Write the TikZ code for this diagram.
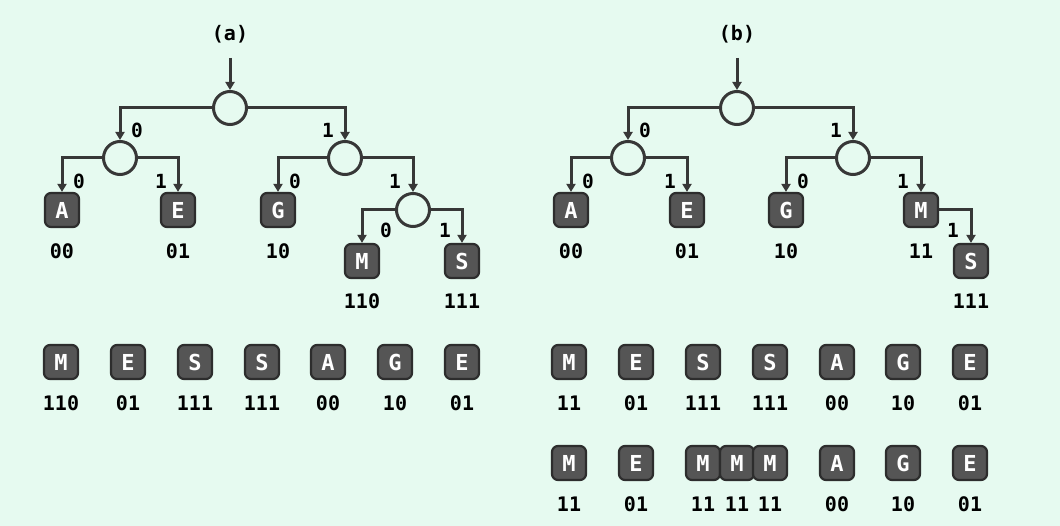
\documentclass[tikz,border=0pt]{standalone}
\usepackage{fontspec}
\newfontfamily\monof{DejaVu Sans Mono}
\usetikzlibrary{arrows.meta}
\definecolor{bgc}{RGB}{230,250,240}
\definecolor{linec}{RGB}{55,55,55}
\definecolor{boxf}{RGB}{85,85,85}
\definecolor{boxd}{RGB}{45,45,45}
\tikzset{
  conn/.style={draw=linec, line width=3pt, -{Triangle[length=8pt,width=9pt]}},
  split/.style={circle, draw=linec, line width=3pt, minimum size=33pt, inner sep=0pt},
  sym/.style={rectangle, rounded corners=6pt, fill=boxf, draw=boxd, line width=2.2pt, minimum width=34pt, minimum height=34pt, inner sep=0pt, text=white, font=\monof\bfseries\fontsize{22}{22}\selectfont},
  code/.style={inner sep=0pt, text=black, font=\monof\bfseries\fontsize{20}{20}\selectfont},
  bit/.style={inner sep=0pt, text=black, font=\monof\bfseries\fontsize{19.5}{19.5}\selectfont},
  title/.style={inner sep=0pt, text=black, font=\monof\bfseries\fontsize{20}{20}\selectfont}
}
\begin{document}
\begin{tikzpicture}[x=1pt,y=-1pt]
\fill[bgc] (0,0) rectangle (1060,526);
\useasboundingbox (0,0) rectangle (1060,526);

% ---------- (a) ----------
\node[title] (ta) at (230,34) {(a)};
\coordinate (sa) at (230,58);
\node[split] (ar) at (230,108) {};
\node[split] (al) at (120,158) {};
\node[split] (aR) at (345,158) {};
\node[split] (aRR) at (413,210) {};
\node[sym] (aA) at (62,210) {A};
\node[sym] (aE) at (178,210) {E};
\node[sym] (aG) at (278,210) {G};
\node[sym] (aM) at (362,261) {M};
\node[sym] (aS) at (462,261) {S};
\draw[conn] (sa) -- (ar.north);
\draw[conn] (ar.west) -| (al.north);
\draw[conn] (ar.east) -| (aR.north);
\draw[conn] (al.west) -| (aA.north);
\draw[conn] (al.east) -| (aE.north);
\draw[conn] (aR.west) -| (aG.north);
\draw[conn] (aR.east) -| (aRR.north);
\draw[conn] (aRR.west) -| (aM.north);
\draw[conn] (aRR.east) -| (aS.north);
\node[bit] (ab1) at (137,130) {0};
\node[bit] (ab2) at (328,130) {1};
\node[bit] (ab3) at (79,181) {0};
\node[bit] (ab4) at (161,181) {1};
\node[bit] (ab5) at (295,181) {0};
\node[bit] (ab6) at (395,181) {1};
\node[bit] (ab7) at (386,230) {0};
\node[bit] (ab8) at (445,230) {1};
\node[code] (acA) at (62,251) {00};
\node[code] (acE) at (178,251) {01};
\node[code] (acG) at (278,251) {10};
\node[code] (acM) at (362,301) {110};
\node[code] (acS) at (462,301) {111};

% message (a)
\foreach \l/\c/\x [count=\i] in {M/110/61,E/01/128,S/111/195,S/111/262,A/00/328,G/10/395,E/01/462}{
  \node[sym] (am\i) at (\x,362) {\l};
  \node[code] (amc\i) at (\x,403) {\c};
}

% ---------- (b) ----------
\node[title] (tb) at (737,34) {(b)};
\coordinate (sb) at (737,58);
\node[split] (br) at (737,108) {};
\node[split] (bl) at (628,158) {};
\node[split] (bR) at (853,158) {};
\node[sym] (bA) at (571,210) {A};
\node[sym] (bE) at (687,210) {E};
\node[sym] (bG) at (786,210) {G};
\node[sym] (bM) at (921,210) {M};
\node[sym] (bS) at (971,261) {S};
\draw[conn] (sb) -- (br.north);
\draw[conn] (br.west) -| (bl.north);
\draw[conn] (br.east) -| (bR.north);
\draw[conn] (bl.west) -| (bA.north);
\draw[conn] (bl.east) -| (bE.north);
\draw[conn] (bR.west) -| (bG.north);
\draw[conn] (bR.east) -| (bM.north);
\draw[conn] (bM.east) -| (bS.north);
\node[bit] (bb1) at (645,130) {0};
\node[bit] (bb2) at (836,130) {1};
\node[bit] (bb3) at (588,181) {0};
\node[bit] (bb4) at (670,181) {1};
\node[bit] (bb5) at (803,181) {0};
\node[bit] (bb6) at (903,181) {1};
\node[bit] (bb7) at (953,230) {1};
\node[code] (bcA) at (571,251) {00};
\node[code] (bcE) at (687,251) {01};
\node[code] (bcG) at (786,251) {10};
\node[code] (bcM) at (921,251) {11};
\node[code] (bcS) at (971,301) {111};

% message (b) row 1
\foreach \l/\c/\x [count=\i] in {M/11/569,E/01/636,S/111/703,S/111/770,A/00/837,G/10/903,E/01/970}{
  \node[sym] (bm\i) at (\x,362) {\l};
  \node[code] (bmc\i) at (\x,403) {\c};
}
% message (b) row 2
\foreach \l/\c/\x [count=\i] in {M/11/569,E/01/636,M/11/703,M/11/737,M/11/770,A/00/837,G/10/903,E/01/970}{
  \node[sym] (bn\i) at (\x,463) {\l};
  \node[code] (bnc\i) at (\x,504) {\c};
}
\end{tikzpicture}
\end{document}
